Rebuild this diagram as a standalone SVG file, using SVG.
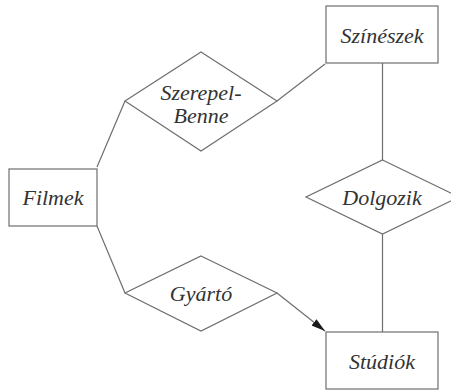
<svg xmlns="http://www.w3.org/2000/svg" width="451" height="392" viewBox="0 0 451 392">
  <style>
    .shape { fill: #ffffff; stroke: #6e6e6e; stroke-width: 1.2; }
    .edge { fill: none; stroke: #6e6e6e; stroke-width: 1.2; }
    .label { font-family: "Liberation Serif", "Times New Roman", serif; font-style: italic; font-size: 22px; fill: #333333; text-anchor: middle; }
  </style>
  <defs>
    <marker id="arrow" viewBox="0 0 14 8" refX="14" refY="4" markerWidth="14" markerHeight="8" markerUnits="userSpaceOnUse" orient="auto">
      <path d="M0,0 L14,4 L0,8 Z" fill="#1a1a1a"/>
    </marker>
  </defs>
  <rect width="451" height="392" fill="#ffffff"/>

  <g id="connectors">
    <line class="edge" x1="97" y1="167" x2="125" y2="101"/>
    <line class="edge" x1="277" y1="101" x2="325" y2="64"/>
    <line class="edge" x1="382.5" y1="63" x2="382.5" y2="160"/>
    <line class="edge" x1="382.5" y1="234" x2="382.5" y2="332"/>
    <line class="edge" x1="97" y1="226" x2="125" y2="293"/>
    <line class="edge" x1="277" y1="293" x2="325" y2="331" marker-end="url(#arrow)"/>
  </g>

  <g id="filmek">
    <rect class="shape" x="9" y="169" width="88" height="57"/>
    <text class="label" x="53" y="205">Filmek</text>
  </g>

  <g id="szineszek">
    <rect class="shape" x="326" y="6" width="112" height="57"/>
    <text class="label" x="382" y="43">Színészek</text>
  </g>

  <g id="studiok">
    <rect class="shape" x="326" y="332" width="112" height="57"/>
    <text class="label" x="382" y="369">Stúdiók</text>
  </g>

  <g id="szerepel-benne">
    <polygon class="shape" points="201,52 277,101 201,151 125,101"/>
    <text class="label" x="201" y="100">Szerepel-</text>
    <text class="label" x="201" y="123">Benne</text>
  </g>

  <g id="dolgozik">
    <polygon class="shape" points="382.5,160 459,197 382.5,234 306,197"/>
    <text class="label" x="382" y="205">Dolgozik</text>
  </g>

  <g id="gyarto">
    <polygon class="shape" points="201,256 277,293 201,331 125,293"/>
    <text class="label" x="201" y="301">Gyártó</text>
  </g>
</svg>
